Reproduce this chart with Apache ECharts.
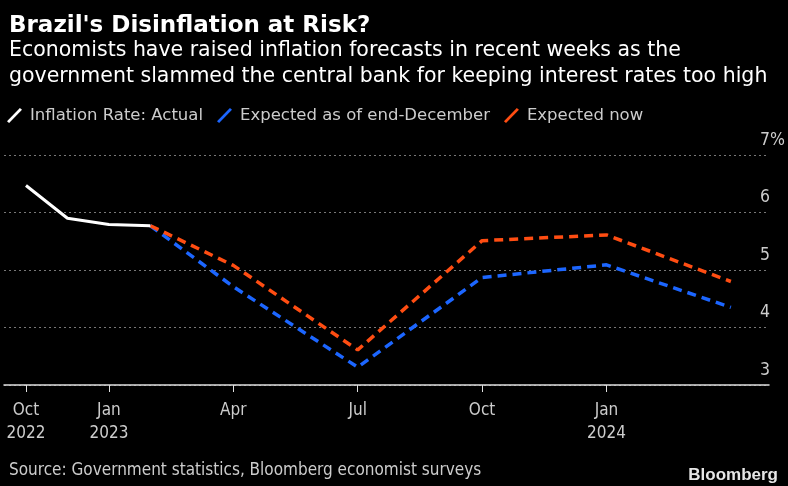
<!DOCTYPE html>
<html>
<head>
<meta charset="utf-8">
<script src="https://cdn.jsdelivr.net/npm/echarts@6/dist/echarts.min.js"></script>
<style>
html,body{margin:0;padding:0;background:#000;}
#chart{width:788px;height:486px;}
</style>
</head>
<body>
<div id="chart"></div>
<script>
// Month index: 0 = Oct 2022, 1 = Nov 2022, ...
const actualX = [0, 1, 2, 3];
const actualY = [6.47, 5.90, 5.79, 5.77];
const forecastX = [3, 5, 8, 11, 14, 17];
const expectedDecY = [5.77, 4.71, 3.31, 4.87, 5.09, 4.35];
const expectedNowY = [5.77, 5.08, 3.61, 5.51, 5.61, 4.80];
const tickPositions = [0, 2, 5, 8, 11, 14];
const tickLabels = ['Oct\n2022', 'Jan\n2023', 'Apr', 'Jul', 'Oct', 'Jan\n2024'];
const yTicks = [3, 4, 5, 6, 7];

const seriesNames = ['Inflation Rate: Actual', 'Expected as of end-December', 'Expected now'];
const seriesColors = ['#ffffff', '#1c66ff', '#ff4d12'];

const pair = (xs, ys) => xs.map((x, i) => [x, ys[i]]);
const slash = 'path://M8.6,0 L10,1.2 L1.4,10 L0,8.8 Z';

const chart = echarts.init(document.getElementById('chart'), null, {renderer: 'canvas'});
const baseFont = '"DejaVu Sans", "Noto Sans", sans-serif';
const axisFont = '"Liberation Sans Narrow", "DejaVu Sans Condensed", sans-serif';

chart.setOption({
  backgroundColor: '#000000',
  animation: false,
  title: [
    {
      text: "Brazil's Disinflation at Risk?",
      left: 4, top: 7,
      textStyle: {color: '#ffffff', fontSize: 23, fontWeight: 'bold', lineHeight: 28, fontFamily: baseFont}
    },
    {
      text: 'Economists have raised inflation forecasts in recent weeks as the\ngovernment slammed the central bank for keeping interest rates too high',
      left: 4, top: 33,
      textStyle: {color: '#ffffff', fontSize: 20.5, fontWeight: 'normal', lineHeight: 26, fontFamily: baseFont}
    },
    {
      text: 'Source: Government statistics, Bloomberg economist surveys',
      left: 4, top: 456,
      textStyle: {color: '#cccccc', fontSize: 17, fontWeight: 'normal', lineHeight: 20, fontFamily: axisFont}
    },
    {
      text: 'Bloomberg',
      right: 5, top: 462,
      textStyle: {color: '#e6e6e6', fontSize: 17, fontWeight: 'bold', fontFamily: '"Liberation Sans", Arial, sans-serif'}
    }
  ],
  legend: {
    left: 2, top: 102,
    itemWidth: 15, itemHeight: 15, itemGap: 14,
    icon: slash,
    data: seriesNames,
    textStyle: {color: '#cccccc', fontSize: 16.5, fontFamily: baseFont, padding: [0, 0, 0, 3]},
    selectedMode: false
  },
  grid: {left: 4, right: 18, top: 155, bottom: 101, containLabel: false},
  xAxis: {
    type: 'value',
    min: -0.53, max: 17.92,
    axisLine: {show: true, lineStyle: {color: '#e0e0e0', width: 1.5}},
    axisTick: {show: true, customValues: tickPositions, length: 7, lineStyle: {color: '#e0e0e0', width: 1}},
    axisLabel: {
      customValues: tickPositions,
      formatter: v => tickLabels[tickPositions.indexOf(v)] || '',
      color: '#cccccc', fontSize: 17, lineHeight: 23, margin: 14,
      fontFamily: axisFont
    },
    splitLine: {show: false}
  },
  yAxis: {
    type: 'value',
    position: 'right',
    min: 3, max: 7, interval: 1,
    axisLine: {show: false},
    axisTick: {show: false},
    axisLabel: {
      align: 'left',
      verticalAlign: 'bottom',
      margin: -9,
      padding: [0, 0, 6, 0],
      color: '#cccccc', fontSize: 17.5,
      fontFamily: axisFont,
      formatter: v => (v === 7 ? v + '%' : String(v))
    },
    splitLine: {show: true, lineStyle: {color: '#777777', type: [2, 3], width: 1}}
  },
  series: [
    {
      name: seriesNames[0], type: 'line', data: pair(actualX, actualY),
      symbol: 'none', color: seriesColors[0],
      lineStyle: {color: seriesColors[0], width: 3}, z: 5
    },
    {
      name: seriesNames[1], type: 'line', data: pair(forecastX, expectedDecY),
      symbol: 'none', color: seriesColors[1],
      lineStyle: {color: seriesColors[1], width: 3.5, type: [9, 6]}, z: 3
    },
    {
      name: seriesNames[2], type: 'line', data: pair(forecastX, expectedNowY),
      symbol: 'none', color: seriesColors[2],
      lineStyle: {color: seriesColors[2], width: 3.5, type: [9, 6]}, z: 4
    }
  ]
});
</script>
</body>
</html>
